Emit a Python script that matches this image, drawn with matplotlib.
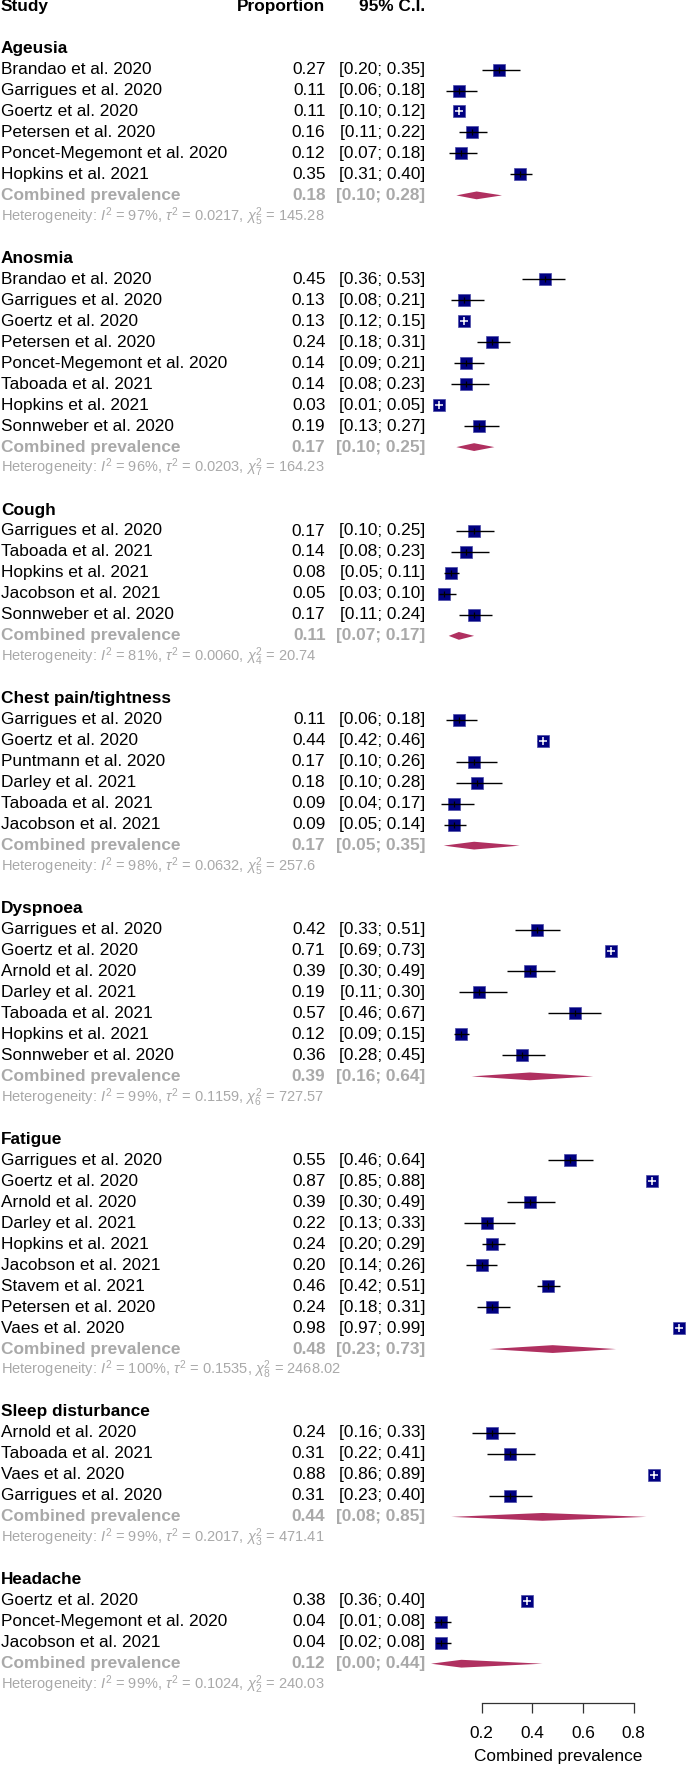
import matplotlib
matplotlib.use("Agg")
import matplotlib.pyplot as plt
import matplotlib.transforms as mtransforms

plt.rcParams['font.family'] = ['Liberation Sans', 'DejaVu Sans']
plt.rcParams['mathtext.fontset'] = 'custom'
plt.rcParams['mathtext.rm'] = 'Liberation Sans'
plt.rcParams['mathtext.it'] = 'Liberation Sans:italic'
plt.rcParams['mathtext.bf'] = 'Liberation Sans:bold'

# ---------------- data ----------------
groups = ["Ageusia", "Anosmia", "Cough", "Chest pain/tightness", "Dyspnoea",
          "Fatigue", "Sleep disturbance", "Headache"]

studies = [
    ["Brandao et al. 2020", "Garrigues et al. 2020", "Goertz et al. 2020", "Petersen et al. 2020",
     "Poncet-Megemont et al. 2020", "Hopkins et al. 2021"],
    ["Brandao et al. 2020", "Garrigues et al. 2020", "Goertz et al. 2020", "Petersen et al. 2020",
     "Poncet-Megemont et al. 2020", "Taboada et al. 2021", "Hopkins et al. 2021", "Sonnweber et al. 2020"],
    ["Garrigues et al. 2020", "Taboada et al. 2021", "Hopkins et al. 2021", "Jacobson et al. 2021",
     "Sonnweber et al. 2020"],
    ["Garrigues et al. 2020", "Goertz et al. 2020", "Puntmann et al. 2020", "Darley et al. 2021",
     "Taboada et al. 2021", "Jacobson et al. 2021"],
    ["Garrigues et al. 2020", "Goertz et al. 2020", "Arnold et al. 2020", "Darley et al. 2021",
     "Taboada et al. 2021", "Hopkins et al. 2021", "Sonnweber et al. 2020"],
    ["Garrigues et al. 2020", "Goertz et al. 2020", "Arnold et al. 2020", "Darley et al. 2021",
     "Hopkins et al. 2021", "Jacobson et al. 2021", "Stavem et al. 2021", "Petersen et al. 2020",
     "Vaes et al. 2020"],
    ["Arnold et al. 2020", "Taboada et al. 2021", "Vaes et al. 2020", "Garrigues et al. 2020"],
    ["Goertz et al. 2020", "Poncet-Megemont et al. 2020", "Jacobson et al. 2021"],
]

prop = [
    [0.27, 0.11, 0.11, 0.16, 0.12, 0.35],
    [0.45, 0.13, 0.13, 0.24, 0.14, 0.14, 0.03, 0.19],
    [0.17, 0.14, 0.08, 0.05, 0.17],
    [0.11, 0.44, 0.17, 0.18, 0.09, 0.09],
    [0.42, 0.71, 0.39, 0.19, 0.57, 0.12, 0.36],
    [0.55, 0.87, 0.39, 0.22, 0.24, 0.20, 0.46, 0.24, 0.98],
    [0.24, 0.31, 0.88, 0.31],
    [0.38, 0.04, 0.04],
]
ci_low = [
    [0.20, 0.06, 0.10, 0.11, 0.07, 0.31],
    [0.36, 0.08, 0.12, 0.18, 0.09, 0.08, 0.01, 0.13],
    [0.10, 0.08, 0.05, 0.03, 0.11],
    [0.06, 0.42, 0.10, 0.10, 0.04, 0.05],
    [0.33, 0.69, 0.30, 0.11, 0.46, 0.09, 0.28],
    [0.46, 0.85, 0.30, 0.13, 0.20, 0.14, 0.42, 0.18, 0.97],
    [0.16, 0.22, 0.86, 0.23],
    [0.36, 0.01, 0.02],
]
ci_high = [
    [0.35, 0.18, 0.12, 0.22, 0.18, 0.40],
    [0.53, 0.21, 0.15, 0.31, 0.21, 0.23, 0.05, 0.27],
    [0.25, 0.23, 0.11, 0.10, 0.24],
    [0.18, 0.46, 0.26, 0.28, 0.17, 0.14],
    [0.51, 0.73, 0.49, 0.30, 0.67, 0.15, 0.45],
    [0.64, 0.88, 0.49, 0.33, 0.29, 0.26, 0.51, 0.31, 0.99],
    [0.33, 0.41, 0.89, 0.40],
    [0.40, 0.08, 0.08],
]

pooled = [0.18, 0.17, 0.11, 0.17, 0.39, 0.48, 0.44, 0.12]
pooled_low = [0.10, 0.10, 0.07, 0.05, 0.16, 0.23, 0.08, 0.00]
pooled_high = [0.28, 0.25, 0.17, 0.35, 0.64, 0.73, 0.85, 0.44]

i2 = [97, 96, 81, 98, 99, 100, 99, 99]
tau2 = [0.0217, 0.0203, 0.0060, 0.0632, 0.1159, 0.1535, 0.2017, 0.1024]
chi2 = [145.28, 164.23, 20.74, 257.6, 727.57, 2468.02, 471.41, 240.03]

axis_ticks = [0.2, 0.4, 0.6, 0.8]

# ---------------- layout ----------------
W, H = 686, 1766
PX_PER_UNIT = 253.5
X0_PX = 431.0
ROW_PX = 20.976
ROW0_PX = 6.6
SQ_PX = 11.5

FS = 12.4
FS_HET = 10.5
GREY = '#a9a9a9'
NAVY = '#000080'
DIAMOND = '#B03060'

fig = plt.figure(figsize=(W / 100, H / 100), dpi=100)
ax = fig.add_axes([0, 0, 1, 1])
ax.set_xlim(-X0_PX / PX_PER_UNIT, (W - X0_PX) / PX_PER_UNIT)
ax.set_ylim((H - ROW0_PX) / ROW_PX, -ROW0_PX / ROW_PX)

tr = mtransforms.blended_transform_factory(ax.transAxes, ax.transData)


def xf(px):
    return px / W


X_STUDY = xf(1)
X_PROP = xf(325.5)
X_CI = xf(425.5)

# header
ax.text(X_STUDY, 0, "Study", transform=tr, ha='left', va='center', fontsize=FS, fontweight='bold')
ax.text(X_PROP, 0, "Proportion", transform=tr, ha='right', va='center', fontsize=FS, fontweight='bold')
ax.text(X_CI, 0, "95% C.I.", transform=tr, ha='right', va='center', fontsize=FS, fontweight='bold')

sq_units = SQ_PX / PX_PER_UNIT
diamond_half = 3.9 / ROW_PX

row = 2
for gi, g in enumerate(groups):
    ax.text(X_STUDY, row, g, transform=tr, ha='left', va='center', fontsize=FS, fontweight='bold')
    row += 1
    for s, p, lo, hi in zip(studies[gi], prop[gi], ci_low[gi], ci_high[gi]):
        ax.text(X_STUDY, row, s, transform=tr, ha='left', va='center', fontsize=FS)
        ax.text(X_PROP, row, f"{p:.2f}", transform=tr, ha='right', va='center', fontsize=FS)
        ax.text(X_CI, row, f"[{lo:.2f}; {hi:.2f}]", transform=tr, ha='right', va='center', fontsize=FS)
        inside = (hi - lo) < sq_units
        ax.plot([lo, hi], [row, row], color='black', lw=1.0, zorder=3 if not inside else 1,
                solid_capstyle='butt')
        ax.plot([p], [row], marker='s', ms=SQ_PX * 0.72, mfc=NAVY, mec='#4a4aa8', mew=0.5,
                ls='none', zorder=2)
        if inside:
            ax.plot([p], [row], marker='+', ms=6.0, mec='white', mew=1.1, ls='none', zorder=4)
        else:
            ax.plot([p], [row], marker='|', ms=5.0, mec='black', mew=0.9, ls='none', zorder=4)
        row += 1
    # combined
    ax.text(X_STUDY, row, "Combined prevalence", transform=tr, ha='left', va='center',
            fontsize=FS, fontweight='bold', color=GREY)
    ax.text(X_PROP, row, f"{pooled[gi]:.2f}", transform=tr, ha='right', va='center',
            fontsize=FS, fontweight='bold', color=GREY)
    ax.text(X_CI, row, f"[{pooled_low[gi]:.2f}; {pooled_high[gi]:.2f}]", transform=tr, ha='right',
            va='center', fontsize=FS, fontweight='bold', color=GREY)
    ax.fill([pooled_low[gi], pooled[gi], pooled_high[gi], pooled[gi]],
            [row, row - diamond_half, row, row + diamond_half],
            color=DIAMOND, lw=0, zorder=2)
    row += 1
    k = len(studies[gi])
    het = (r"Heterogeneity: $I^2$ = " + f"{i2[gi]}%, " + r"$\tau^2$ = " + f"{tau2[gi]:.4f}, "
           + r"$\chi^2_{" + f"{k - 1}" + r"}$ = " + f"{chi2[gi]:g}")
    ax.text(X_STUDY, row, het, transform=tr, ha='left', va='center', fontsize=FS_HET, color=GREY)
    row += 2

# bottom axis
axis_row = (1703 - ROW0_PX) / ROW_PX
for side in ['top', 'left', 'right']:
    ax.spines[side].set_visible(False)
ax.spines['bottom'].set_position(('data', axis_row))
ax.spines['bottom'].set_bounds(axis_ticks[0], axis_ticks[-1])
ax.spines['bottom'].set_color('#333333')
ax.spines['bottom'].set_linewidth(0.9)
ax.set_xticks(axis_ticks)
ax.set_xticklabels([f"{t:.1f}" for t in axis_ticks])
ax.tick_params(axis='x', direction='out', length=7.2, width=0.9, color='#333333',
               pad=9.5, labelsize=FS)
ax.set_yticks([])
ax.patch.set_visible(False)
ax.text(0.5, (1757 - ROW0_PX) / ROW_PX, "Combined prevalence", ha='center', va='center', fontsize=FS)

fig.savefig("out.png", dpi=100)
